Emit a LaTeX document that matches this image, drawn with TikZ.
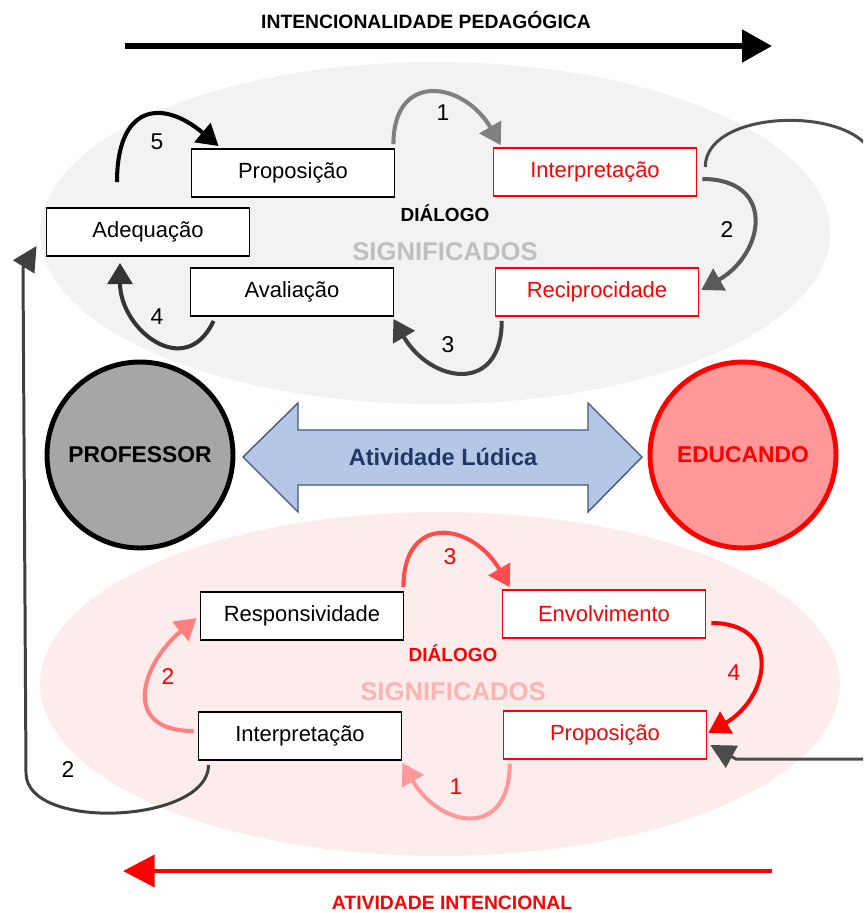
\documentclass[tikz,border=0pt]{standalone}
\usepackage{fontspec}
\setmainfont{Liberation Sans}
\usepackage{xcolor}
\usepackage{tikz}
\usetikzlibrary{calc}
\usetikzlibrary{arrows.meta}
\tikzset{>={Triangle[length=12pt,width=14pt]}}

\definecolor{signifgray}{HTML}{F2F2F2}
\definecolor{signifpink}{HTML}{FDECEC}
\definecolor{signifgraytext}{HTML}{BFBFBF}
\definecolor{signifpinktext}{HTML}{FFB3B3}
\definecolor{ludicafill}{HTML}{B4C7E7}
\definecolor{ludicadraw}{HTML}{41587D}
\definecolor{ludicatext}{HTML}{203864}

\begin{document}
\begin{tikzpicture}[x=0.02cm, y=0.02cm]
\tikzset{box/.style={draw=black, line width=1.1pt, fill=white, minimum width=4.06cm, minimum height=0.96cm, inner sep=0pt, font=\fontsize{12.5}{14}\selectfont}}
\tikzset{redbox/.style={box, draw=red, text=red, line width=0.9pt}}
\tikzset{turn/.style={line width=2.3pt, ->}}
\tikzset{num/.style={font=\fontsize{13}{15}\selectfont}}
\tikzset{dialogo/.style={font=\bfseries\fontsize{10.8}{12}\selectfont}}
\tikzset{signif/.style={font=\bfseries\fontsize{14.6}{16}\selectfont}}
\tikzset{person/.style={circle, line width=2.8pt, minimum size=3.72cm, inner sep=0pt, font=\bfseries\fontsize{13}{15}\selectfont}}
\tikzset{titulo/.style={font=\bfseries\fontsize{11}{13}\selectfont}}
    \useasboundingbox (0,0) rectangle (863,-913);
    \clip (0,0) rectangle (863,-913);

    \fill[signifgray] (435,-233) ellipse (395 and 171);
    \fill[signifpink] (440,-684) ellipse (400 and 172);

    \node[titulo] (tituloA) at (426,-20) {INTENCIONALIDADE PEDAGÓGICA};
    \coordinate (setaAi) at (125,-46);
    \coordinate (setaAo) at (772,-46);
    \draw[line width=3.4pt, -{Triangle[length=17pt,width=18pt]}] (setaAi) -- (setaAo);
% % % % % % % % % % % % % % % % % % %
    \node[box] (propA) at (293,-173) {Proposição};
    \node[box] (adeq) at (148,-232) {Adequação};
    \node[box] (aval) at (292,-292) {Avaliação};
    \node[redbox] (interA) at (595,-172) {Interpretação};
    \node[redbox] (recip) at (597,-292) {Reciprocidade};
    \node[dialogo] (dialA) at (445,-213) {DIÁLOGO};
    \node[signif, text=signifgraytext] (sigA) at (445,-252) {SIGNIFICADOS};

    \draw[turn, color=black!50] ($(propA.north east)+(-2,4)$) to[out=90, in=120, looseness=1.75] ($(interA.north west)+(8,2)$);
    \draw[turn, color=black!65] ($(interA.east)+(5,-7)$) to[out=0, in=30, looseness=1.7] ($(recip.east)+(2,2)$);
    \draw[turn, color=black!75] ($(recip.south west)+(7,-4)$) to[out=-90, in=-60, looseness=1.75] ($(aval.south east)+(-1,-2)$);
    \draw[turn, color=black!80] ($(aval.south west)+(24,-4)$) to[out=-115, in=-90, looseness=1.55] ($(adeq.south)+(-28,-6)$);
    \draw[turn, color=black] ($(adeq.north)+(-31,25)$) to[out=90, in=140, looseness=1.8] ($(propA.north west)+(28,2)$);

    \node[num] (nA1) at (443,-113) {1};
    \node[num] (nA2) at (727,-230) {2};
    \node[num] (nA3) at (448,-345) {3};
    \node[num] (nA4) at (157,-317) {4};
    \node[num] (nA5) at (157,-142) {5};
% % % % % % % % % % % % % % % % % % %
    \node[person, draw=black, fill=black!35] (prof) at (140,-455) {PROFESSOR};
    \node[person, draw=red, fill=red!40] (educ) at (743,-455) {\textcolor{red}{EDUCANDO}};

    \filldraw[fill=ludicafill, draw=ludicadraw, line width=0.8pt] (243,-457) -- (298,-403) -- (298,-430) -- (588,-430) -- (588,-403) -- (642,-457) -- (588,-512) -- (588,-485) -- (298,-485) -- (298,-512) -- cycle;
    \node[font=\bfseries\fontsize{13.4}{15}\selectfont, text=ludicatext] (ludica) at (443,-457) {Atividade Lúdica};
% % % % % % % % % % % % % % % % % % %
    \node[box] (resp) at (302,-616) {Responsividade};
    \node[box] (interB) at (300,-736) {Interpretação};
    \node[redbox] (envol) at (604,-614) {Envolvimento};
    \node[redbox] (propB) at (605,-735) {Proposição};
    \node[dialogo, text=red] (dialB) at (453,-653) {DIÁLOGO};
    \node[signif, text=signifpinktext] (sigB) at (453,-692) {SIGNIFICADOS};

    \draw[turn, color=red!70] ($(resp.north east)+(-1,4)$) to[out=90, in=120, looseness=1.8] ($(envol.north west)+(8,2)$);
    \draw[turn, color=red] ($(envol.east)+(5,-9)$) to[out=0, in=30, looseness=1.65] ($(propB.east)+(1,2)$);
    \draw[turn, color=red!40] ($(propB.south west)+(7,-4)$) to[out=-90, in=-60, looseness=1.8] ($(interB.south east)+(0,-2)$);
    \draw[turn, color=red!50] ($(interB.west)+(-4,5)$) to[out=180, in=-140, looseness=1.65] ($(resp.west)+(-3,-2)$);

    \node[num, text=red] (nB3) at (450,-557) {3};
    \node[num, text=red] (nB4) at (734,-673) {4};
    \node[num, text=red] (nB1) at (456,-787) {1};
    \node[num, text=red] (nB2) at (168,-677) {2};
% % % % % % % % % % % % % % % % % % %
    \coordinate (loopR) at (875,-167);
    \coordinate (loopRB) at (875,-759);
    \coordinate (turnB) at (736,-759);
    \draw[line width=1.7pt, color=black!70, -{Triangle[length=14pt,width=14pt]}] ($(interA.east)+(8,5)$) to[out=90, in=90, looseness=0.94] (loopR) -- (loopRB) -- (turnB) -- ($(propB.east)+(3,-10)$);

    \coordinate (loopL) at (26,-773);
    \coordinate (upL) at (23,-268);
    \draw[line width=1.7pt, color=black!75, -{Triangle[length=14pt,width=14pt]}] ($(interB.south west)+(11,-4)$) to[out=-90, in=-90, looseness=0.82] (loopL) -- (upL) -- ($(adeq.south west)+(-9,11)$);
    \node[num] (nL2) at (68,-770) {2};
% % % % % % % % % % % % % % % % % % %
    \coordinate (setaBi) at (772,-871);
    \coordinate (setaBo) at (123,-871);
    \draw[line width=2.8pt, color=red, -{Triangle[length=18pt,width=18pt]}] (setaBi) -- (setaBo);
    \node[titulo, text=red] (tituloB) at (452,-903) {ATIVIDADE INTENCIONAL};
\end{tikzpicture}
\end{document}
